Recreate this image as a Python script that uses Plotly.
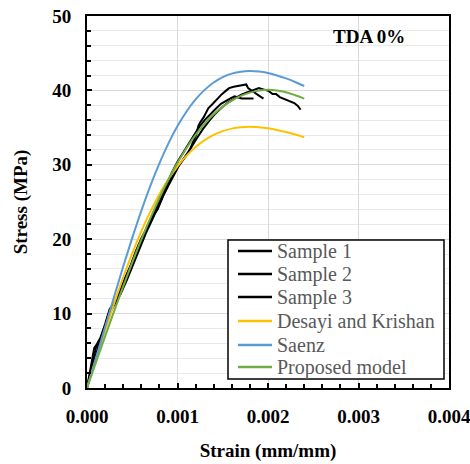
import plotly.graph_objects as go

# ---- data ----
model_strain = [0, 0.0001, 0.0002, 0.0003, 0.0004, 0.0005, 0.0006, 0.0007, 0.0008,
                0.0009, 0.0010, 0.0011, 0.0012, 0.0013, 0.0014, 0.0015, 0.0016,
                0.0017, 0.0018, 0.0019, 0.0020, 0.0021, 0.0022, 0.0023, 0.0024]
desayi_stress = [0, 3.89, 7.70, 11.38, 14.87, 18.10, 21.06, 23.71, 26.05, 28.08, 29.80,
                 31.24, 32.40, 33.32, 34.02, 34.52, 34.86, 35.04, 35.10, 35.05, 34.91,
                 34.69, 34.40, 34.07, 33.70]
saenz_stress = [0, 4.06, 8.18, 12.29, 16.32, 20.18, 23.81, 27.17, 30.20, 32.88, 35.20,
                37.16, 38.78, 40.07, 41.06, 41.78, 42.26, 42.52, 42.60, 42.53, 42.33,
                42.01, 41.61, 41.13, 40.59]
proposed_stress = [0, 3.48, 6.93, 10.34, 13.66, 16.88, 19.95, 22.84, 25.54, 28.02, 30.26,
                   32.26, 34.01, 35.52, 36.79, 37.82, 38.64, 39.26, 39.70, 39.97, 40.09,
                   40.00, 39.75, 39.35, 38.90]

s1_strain = [0, 0.00004, 0.00008, 0.00011, 0.00015, 0.0002, 0.00025, 0.0003, 0.00036,
             0.00042, 0.00048, 0.00054, 0.0006, 0.00066, 0.00072, 0.00078, 0.00084,
             0.0009, 0.00096, 0.00102, 0.00107, 0.00112, 0.00117, 0.00121, 0.00123,
             0.00125, 0.00129, 0.00134, 0.00139, 0.00144, 0.00149, 0.00153, 0.00157,
             0.00162, 0.00167, 0.00172, 0.00176, 0.00178, 0.00182, 0.00186, 0.0019,
             0.00195]
s1_stress = [0, 2.6, 5.4, 5.9, 6.8, 8.6, 10.6, 11.4, 12.9, 14.8, 16.4, 18.4, 20.1, 21.5,
             23.0, 24.0, 25.8, 27.2, 28.6, 30.0, 30.8, 31.6, 33.0, 34.1, 35.2, 35.7,
             36.4, 37.6, 38.2, 38.9, 39.5, 39.9, 40.3, 40.5, 40.6, 40.7, 40.8, 40.3,
             40.0, 39.7, 39.3, 38.9]

s2_strain = [0, 0.00005, 0.0001, 0.00014, 0.0002, 0.00026, 0.00032, 0.00038, 0.00045,
             0.00052, 0.00059, 0.00066, 0.00073, 0.0008, 0.00087, 0.00094, 0.001,
             0.00106, 0.00112, 0.00118, 0.00124, 0.0013, 0.00136, 0.00142, 0.00148,
             0.00153, 0.00158, 0.00163, 0.00167, 0.00171, 0.00176, 0.0018, 0.00184]
s2_stress = [0, 2.2, 4.6, 6.3, 8.4, 10.2, 11.6, 13.3, 15.4, 17.6, 19.4, 21.6, 23.5, 25.4,
             27.3, 29.0, 30.4, 31.6, 32.8, 34.0, 35.1, 36.0, 36.8, 37.5, 38.2, 38.6,
             38.9, 39.2, 39.0, 38.9, 38.9, 38.9, 38.9]

s3_strain = [0, 0.00003, 0.00007, 0.0001, 0.00013, 0.00018, 0.00023, 0.00027, 0.00031,
             0.00037, 0.00044, 0.00051, 0.00058, 0.00065, 0.00072, 0.00079, 0.00086,
             0.00093, 0.001, 0.00107, 0.00114, 0.00121, 0.00128, 0.00135, 0.00142,
             0.00149, 0.00156, 0.00163, 0.0017, 0.00176, 0.00181, 0.00186, 0.0019,
             0.00193, 0.00197, 0.00201, 0.00205, 0.00209, 0.00213, 0.00217, 0.00221,
             0.00225, 0.00229, 0.00233, 0.00236]
s3_stress = [0, 1.6, 3.9, 5.5, 6.2, 7.4, 9.6, 10.9, 11.4, 12.6, 14.5, 16.6, 18.9, 20.8,
             22.6, 24.5, 26.4, 28.2, 29.6, 30.8, 32.1, 33.5, 34.8, 35.9, 36.9, 37.7,
             38.4, 38.9, 39.4, 39.7, 39.9, 40.1, 40.3, 40.2, 40.1, 39.9, 39.5, 39.5,
             39.1, 38.9, 38.7, 38.4, 38.3, 37.9, 37.4]

x_ticks = [0, 0.001, 0.002, 0.003, 0.004]
x_ticklabels = ["0.000", "0.001", "0.002", "0.003", "0.004"]
y_ticks = [0, 10, 20, 30, 40, 50]

series_names = ["Sample 1", "Sample 2", "Sample 3", "Desayi and Krishan", "Saenz",
                "Proposed model"]
series_colors = ["black", "black", "black", "#FFC000", "#5B9BD5", "#70AD47"]

SERIF = "Liberation Serif, Times New Roman, serif"

# plot area in pixels (layout)
W, H = 470, 464
ML, MR, MT, MB = 87, 21, 16, 76
PW, PH = W - ML - MR, H - MT - MB


def px_to_paper(px, py):
    return (px - ML) / PW, (H - MB - py) / PH


fig = go.Figure()
data_sets = [(s1_strain, s1_stress), (s2_strain, s2_stress), (s3_strain, s3_stress),
             (model_strain, desayi_stress), (model_strain, saenz_stress),
             (model_strain, proposed_stress)]
for i, (name, color, (xs, ys)) in enumerate(zip(series_names, series_colors, data_sets)):
    fig.add_trace(go.Scatter(x=xs, y=ys, mode="lines", name=name, showlegend=False,
                             line=dict(color=color, width=2,
                                       shape="spline" if i >= 3 else "linear")))

# ---- hand-built legend box (matches reference layout) ----
shapes = []
annotations = []
bx0, by0 = px_to_paper(228, 379)
bx1, by1 = px_to_paper(444, 240)
shapes.append(dict(type="rect", xref="paper", yref="paper", x0=bx0, y0=by0, x1=bx1, y1=by1,
                   line=dict(color="black", width=1.5), fillcolor="white", layer="above"))
row_y = [251, 274, 297, 321, 345, 367]
for name, color, ry in zip(series_names, series_colors, row_y):
    lx0, ly = px_to_paper(238, ry)
    lx1, _ = px_to_paper(272, ry)
    shapes.append(dict(type="line", xref="paper", yref="paper", x0=lx0, x1=lx1, y0=ly, y1=ly,
                       line=dict(color=color, width=2.5), layer="above"))
    tx, ty = px_to_paper(275, ry)
    annotations.append(dict(text=name, xref="paper", yref="paper", x=tx, y=ty,
                            xanchor="left", yanchor="middle", showarrow=False,
                            font=dict(family=SERIF, size=20, color="#595959")))

annotations.append(dict(text="<b>TDA 0%</b>", x=0.00312, y=47.3, xref="x", yref="y",
                        showarrow=False, xanchor="center", yanchor="middle",
                        font=dict(family=SERIF, size=19, color="black")))

fig.update_layout(
    width=W, height=H,
    margin=dict(l=ML, r=MR, t=MT, b=MB, autoexpand=False),
    paper_bgcolor="white", plot_bgcolor="white",
    font=dict(family=SERIF, color="black"),
    showlegend=False,
    shapes=shapes,
    annotations=annotations,
)

fig.update_xaxes(
    range=[0, 0.004], tickvals=x_ticks, ticktext=x_ticklabels, automargin=False,
    ticklabeloverflow="allow",
    showline=True, linecolor="black", linewidth=2, mirror=True,
    ticks="inside", ticklen=5, tickcolor="black", tickwidth=1.5,
    showgrid=True, gridcolor="#d9d9d9", gridwidth=1, zeroline=False,
    minor=dict(dtick=0.0002, ticks="inside", ticklen=4, tickcolor="black",
               tickwidth=1.5, showgrid=False),
    tickfont=dict(family=SERIF, size=19, color="black", weight="bold"),
    ticklabelstandoff=10,
    title=dict(text="Strain (mm/mm)", standoff=18,
               font=dict(family=SERIF, size=19, color="black", weight="bold")),
)
fig.update_yaxes(
    range=[0, 50], tickvals=y_ticks, automargin=False,
    ticklabeloverflow="allow",
    showline=True, linecolor="black", linewidth=2, mirror=True,
    ticks="inside", ticklen=5, tickcolor="black", tickwidth=1.5,
    showgrid=True, gridcolor="#d9d9d9", gridwidth=1, zeroline=False,
    minor=dict(dtick=2, ticks="inside", ticklen=4, tickcolor="black",
               tickwidth=1.5, showgrid=True, gridcolor="#e9e9e9", gridwidth=1),
    tickfont=dict(family=SERIF, size=19, color="black", weight="bold"),
    ticklabelstandoff=10,
    title=dict(text="Stress (MPa)", standoff=20,
               font=dict(family=SERIF, size=19, color="black", weight="bold")),
)

fig.write_html("out.html", config={"displayModeBar": False},
               post_script="document.body.style.margin='0';document.body.style.overflow='hidden';")
